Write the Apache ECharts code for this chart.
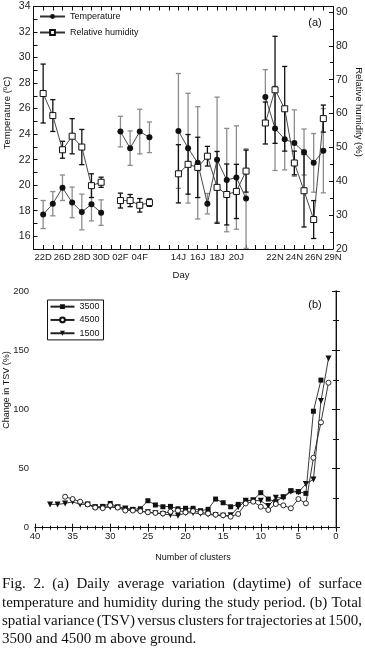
<!DOCTYPE html>
<html><head><meta charset="utf-8">
<script src="https://cdn.jsdelivr.net/npm/echarts@6/dist/echarts.min.js"></script>
<style>html,body{margin:0;padding:0;background:#fff}#c{width:365px;height:648px}</style>
</head><body><div id="c"></div>
<script>
// ---------- Panel (a) data ----------
const dayLabels = ['', '22D', '', '26D', '', '28D', '', '30D', '', '02F', '', '04F', '', '', '', '14J', '', '16J', '', '18J', '', '20J', '', '', '', '22N', '', '24N', '', '26N', '', '29N'];
const temperature = [null, 17.7, 18.55, 19.8, 18.65, 17.9, 18.5, 17.85, null, 24.2, 22.9, 24.2, 23.75, null, null, 24.25, 22.9, 21.75, 18.55, 22.0, 20.4, 20.6, 18.95, null, 26.9, 24.45, 23.6, 23.3, 22.6, 21.75, 22.7, null];
const temperatureErr = [null, 1.1, 0.95, 1.0, 1.2, 1.4, 1.3, 1.0, null, 1.2, 1.35, 1.75, 1.2, null, null, 4.5, 4.3, 4.4, 0.8, 4.9, 4.05, 4.05, 3.9, null, 2.15, 3.3, 2.4, 2.6, 1.8, 2.3, 3.3, null];
const humidity = [null, 65.9, 59.4, 49.3, 53.3, 50.1, 38.7, 39.7, null, 34.3, 34.3, 32.9, 33.7, null, null, 42.2, 45.0, 44.1, 47.4, 38.2, 36.1, 37.0, 43.0, null, 57.2, 67.0, 61.4, 45.4, 37.2, 28.7, 58.5, null];
const humidityErr = [null, 8.7, 4.7, 2.5, 5.2, 5.2, 3.5, 1.5, null, 2.2, 1.8, 2.0, 1.1, null, null, 8.6, 8.8, 8.9, 2.9, 10.6, 9.0, 8.0, 6.2, null, 6.2, 15.8, 12.5, 3.5, 10.7, 5.6, 4.0, null];

// ---------- Panel (b) data ----------
const clusters = [38, 37, 36, 35, 34, 33, 32, 31, 30, 29, 28, 27, 26, 25, 24, 23, 22, 21, 20, 19, 18, 17, 16, 15, 14, 13, 12, 11, 10, 9, 8, 7, 6, 5, 4, 3, 2, 1];
const tsv3500 = [null, null, null, null, null, 19.7, 17.5, 18, 20.5, 17.5, 16.5, 15.5, 16, 22.8, 19.2, 17.7, 18, 16, 16.4, 16.4, 14.4, 15.5, 24.2, 21.1, 17.7, 19.7, 22.8, 23.4, 29.6, 24.2, 22, 26.2, 31.3, 30.4, 29, 98.4, 124.7, null];
const tsv4500 = [null, null, 26.2, 24.2, 22, 19.7, 17, 16.5, 19, 17, 14.5, 14.5, 14, 13, 12.5, 12, 13.5, 14.5, 13, 14, 13, 12, 11, 10.5, 9.3, 11.6, 20.5, 22, 17.7, 15, 20, 18.9, 16.4, 24.2, 20.6, 59.1, 89, 122.5];
const tsv1500 = [19.7, 19.7, 20.5, 21.9, 19.7, 19.7, 17.2, 17.2, 17.2, 17, 16, 15, 14, 13, 12.2, 11.6, 10.8, 10.2, 12.5, 12.5, 11.8, 11.2, 10.5, 10.0, 10.5, 17.2, 22.8, 23.0, 22.8, 18.3, 25.3, 25.3, 30.4, 30, 36.9, 40.8, 107, 143];

const captionLines = [
  'Fig. 2. (a) Daily average variation (daytime) of surface',
  'temperature and humidity during the study period. (b) Total',
  'spatial variance (TSV) versus clusters for trajectories at 1500,',
  '3500 and 4500 m above ground.'
];

// ---------- build ----------
const SANS = '"Liberation Sans", Arial, Helvetica, sans-serif';
const SERIF = '"Liberation Serif", "Times New Roman", serif';
const chart = echarts.init(document.getElementById('c'), null, {renderer: 'canvas'});

function errorBars(yAxisIndex, values, errors, color) {
  const data = [];
  values.forEach((v, i) => { if (v != null && errors[i] != null) data.push([i, v, errors[i]]); });
  return {
    type: 'custom', xAxisIndex: 0, yAxisIndex: yAxisIndex, z: 2, silent: true,
    encode: {x: 0, y: 1}, data: data,
    renderItem(params, api) {
      const cs = params.coordSys;
      const i = api.value(0), v = api.value(1), e = api.value(2);
      const p1 = api.coord([i, v + e]), p2 = api.coord([i, v - e]);
      const yTop = Math.max(p1[1], cs.y), yBot = Math.min(p2[1], cs.y + cs.height);
      const x = p1[0];
      const hw = 2.6;
      const style = {stroke: color, lineWidth: 1.3};
      const ch = [{type: 'line', shape: {x1: x, y1: yTop, x2: x, y2: yBot}, style: style}];
      if (p1[1] >= cs.y) ch.push({type: 'line', shape: {x1: x - hw, y1: p1[1], x2: x + hw, y2: p1[1]}, style: style});
      if (p2[1] <= cs.y + cs.height) ch.push({type: 'line', shape: {x1: x - hw, y1: p2[1], x2: x + hw, y2: p2[1]}, style: style});
      return {type: 'group', children: ch};
    }
  };
}

const axisLineBlack = {show: true, lineStyle: {color: '#111', width: 1}};
const tickIn = (len) => ({show: true, inside: true, length: len, lineStyle: {color: '#111', width: 1}});

// caption (justified)
const capFontSize = 15;
const mctx = document.createElement('canvas').getContext('2d');
mctx.font = capFontSize + 'px ' + SERIF;
const capLeft = 2, capRight = 362;
const capY = [584, 603, 621, 639];
const graphics = [];
captionLines.forEach((line, li) => {
  const words = line.split(' ');
  const widths = words.map(w => mctx.measureText(w).width);
  const total = widths.reduce((a, b) => a + b, 0);
  const justify = li < captionLines.length - 1;
  const gap = justify ? Math.max(2, (capRight - capLeft - total) / (words.length - 1)) : mctx.measureText(' ').width;
  let x = capLeft;
  words.forEach((w, wi) => {
    graphics.push({type: 'text', x: x, y: capY[li], silent: true,
      style: {text: w, fill: '#111', fontSize: capFontSize, fontFamily: SERIF, textAlign: 'left', textVerticalAlign: 'middle'}});
    x += widths[wi] + gap;
  });
});
// axis names and panel tags
graphics.push(
  {type: 'text', x: 7, y: 113, rotation: Math.PI / 2, silent: true,
   style: {text: 'Temperature (ºC)', fill: '#111', fontSize: 9.5, fontFamily: SANS, textAlign: 'center', textVerticalAlign: 'middle'}},
  {type: 'text', x: 359, y: 112, rotation: -Math.PI / 2, silent: true,
   style: {text: 'Relative humidity (%)', fill: '#111', fontSize: 9.5, fontFamily: SANS, textAlign: 'center', textVerticalAlign: 'middle'}},
  {type: 'text', x: 181, y: 275, silent: true,
   style: {text: 'Day', fill: '#111', fontSize: 9.5, fontFamily: SANS, textAlign: 'center', textVerticalAlign: 'middle'}},
  {type: 'text', x: 315, y: 23, silent: true,
   style: {text: '(a)', fill: '#111', fontSize: 11, fontFamily: SANS, textAlign: 'center', textVerticalAlign: 'middle'}},
  {type: 'text', x: 7, y: 390, rotation: Math.PI / 2, silent: true,
   style: {text: 'Change in TSV (%)', fill: '#111', fontSize: 9, fontFamily: SANS, textAlign: 'center', textVerticalAlign: 'middle'}},
  {type: 'text', x: 193, y: 558, silent: true,
   style: {text: 'Number of clusters', fill: '#111', fontSize: 9, fontFamily: SANS, textAlign: 'center', textVerticalAlign: 'middle'}},
  {type: 'text', x: 315, y: 305, silent: true,
   style: {text: '(b)', fill: '#111', fontSize: 11, fontFamily: SANS, textAlign: 'center', textVerticalAlign: 'middle'}}
);

const pair = (vals) => clusters.map((k, i) => vals[i] == null ? null : [k, vals[i]]).filter(Boolean);

const option = {
  animation: false,
  backgroundColor: '#fff',
  textStyle: {fontFamily: SANS},
  grid: [
    {left: 33.5, top: 6.5, width: 299.5, height: 242.5},
    {left: 35, top: 291, width: 301, height: 236.7}
  ],
  xAxis: [
    {type: 'category', gridIndex: 0, data: dayLabels, boundaryGap: false, position: 'bottom',
     axisLine: axisLineBlack, axisTick: Object.assign(tickIn(4), {interval: 0}),
     axisLabel: {interval: 0, fontSize: 9.5, color: '#222', margin: 3, fontFamily: SANS},
     splitLine: {show: false}},
    {type: 'category', gridIndex: 0, data: dayLabels, boundaryGap: false, position: 'top',
     axisLine: axisLineBlack, axisTick: Object.assign(tickIn(4), {interval: 0}),
     axisLabel: {show: false}, splitLine: {show: false}},
    {type: 'value', gridIndex: 1, min: 0, max: 40, interval: 5, inverse: true, position: 'bottom',
     axisLine: axisLineBlack, axisTick: tickIn(4),
     minorTick: {show: true, splitNumber: 5, length: 2, lineStyle: {color: '#111'}},
     axisLabel: {fontSize: 9.5, color: '#222', margin: 4, fontFamily: SANS},
     splitLine: {show: false}, minorSplitLine: {show: false}},
    {type: 'value', gridIndex: 1, min: 0, max: 40, interval: 5, inverse: true, position: 'top',
     axisLine: axisLineBlack, axisTick: tickIn(4),
     minorTick: {show: true, splitNumber: 5, length: 2, lineStyle: {color: '#111'}},
     axisLabel: {show: false}, splitLine: {show: false}}
  ],
  yAxis: [
    {type: 'value', gridIndex: 0, min: 15, max: 34, interval: 1, position: 'left',
     axisLine: axisLineBlack, axisTick: tickIn(4),
     axisLabel: {fontSize: 10.5, color: '#222', margin: 3, fontFamily: SANS,
       formatter: v => (Math.abs(v % 2) < 1e-6 ? String(v) : '')},
     splitLine: {show: false}},
    {type: 'value', gridIndex: 0, min: 20, max: 91.6, interval: 10, position: 'right',
     axisLine: axisLineBlack, axisTick: tickIn(4),
     minorTick: {show: true, splitNumber: 2, length: 3, lineStyle: {color: '#111'}},
     axisLabel: {fontSize: 10.5, color: '#222', margin: 3, fontFamily: SANS,
       formatter: v => (Math.abs(v % 10) < 1e-6 ? String(v) : '')},
     splitLine: {show: false}, minorSplitLine: {show: false}},
    {type: 'value', gridIndex: 1, min: 0, max: 200, interval: 50, position: 'left',
     axisLine: {show: true, lineStyle: {color: '#a0a0a0', width: 2}}, axisTick: tickIn(4),
     minorTick: {show: true, splitNumber: 2, length: 3, lineStyle: {color: '#111'}},
     axisLabel: {fontSize: 9.5, color: '#222', margin: 6, fontFamily: SANS},
     splitLine: {show: false}, minorSplitLine: {show: false}},
    {type: 'value', gridIndex: 1, min: 0, max: 200, interval: 50, position: 'right',
     axisLine: axisLineBlack, axisTick: tickIn(4),
     minorTick: {show: true, splitNumber: 2, length: 3, lineStyle: {color: '#111'}},
     axisLabel: {show: false}, splitLine: {show: false}, minorSplitLine: {show: false}}
  ],
  legend: [
    {orient: 'vertical', left: 39, top: 10.5, padding: 0, itemGap: 4, itemWidth: 25, itemHeight: 6,
     data: ['Temperature', 'Relative humidity'],
     textStyle: {fontSize: 9, color: '#111', fontFamily: SANS, lineHeight: 12}},
    {orient: 'vertical', left: 47.5, top: 300, padding: [1, 4, 1, 2], itemGap: 2, itemWidth: 24, itemHeight: 6,
     borderColor: '#111', borderWidth: 1,
     data: ['3500', '4500', '1500'],
     textStyle: {fontSize: 9, color: '#111', fontFamily: SANS, lineHeight: 11.3}}
  ],
  series: [
    errorBars(0, temperature, temperatureErr, '#8c8c8c'),
    errorBars(1, humidity, humidityErr, '#111'),
    {name: 'Temperature', type: 'line', xAxisIndex: 0, yAxisIndex: 0, data: temperature, z: 4,
     symbol: 'circle', symbolSize: 6, connectNulls: false,
     itemStyle: {color: '#111'}, lineStyle: {color: '#333', width: 0.9}},
    {name: 'Relative humidity', type: 'line', xAxisIndex: 0, yAxisIndex: 1, data: humidity, z: 5,
     symbol: 'rect', symbolSize: 6, connectNulls: false,
     itemStyle: {color: '#fff', borderColor: '#111', borderWidth: 1}, lineStyle: {color: '#333', width: 0.9}},
    {name: '3500', type: 'line', xAxisIndex: 2, yAxisIndex: 2, data: pair(tsv3500), z: 4,
     symbol: 'rect', symbolSize: 5, itemStyle: {color: '#111'}, lineStyle: {color: '#222', width: 0.9}},
    {name: '4500', type: 'line', xAxisIndex: 2, yAxisIndex: 2, data: pair(tsv4500), z: 5,
     symbol: 'circle', symbolSize: 5, itemStyle: {color: '#fff', borderColor: '#111', borderWidth: 0.9}, lineStyle: {color: '#222', width: 0.9}},
    {name: '1500', type: 'line', xAxisIndex: 2, yAxisIndex: 2, data: pair(tsv1500), z: 3,
     symbol: 'triangle', symbolRotate: 180, symbolSize: 6, itemStyle: {color: '#111'}, lineStyle: {color: '#222', width: 0.9}}
  ],
  graphic: graphics
};
chart.setOption(option);
</script>
</body></html>
